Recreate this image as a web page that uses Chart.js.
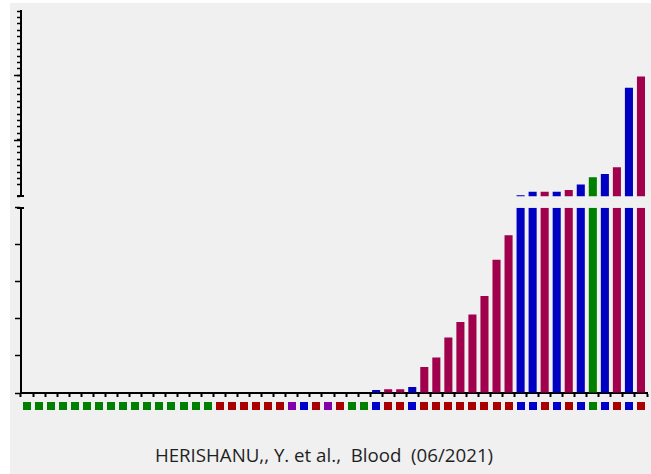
<!DOCTYPE html>
<html>
<head>
<meta charset="utf-8">
<script src="https://cdn.jsdelivr.net/npm/chart.js@4/dist/chart.umd.min.js"></script>
<style>
  html, body { margin: 0; padding: 0; background: #ffffff; }
  #frame { position: absolute; left: 10px; top: 3px; width: 641px; height: 471px; background: #f0f0f0; }
  #plot { position: absolute; left: 0; top: 0; width: 641px; height: 420px; }
  #source { position: absolute; left: -10px; top: 439px; width: 648px; text-align: center;
            font-family: "Open Sans", sans-serif; font-size: 18.7px; color: #1f1f1f; white-space: pre; }
</style>
</head>
<body>
<div id="frame">
  <div id="plot"><canvas id="chart"></canvas></div>
  <div id="source">HERISHANU,, Y. et al.,  Blood  (06/2021)</div>
</div>
<script>
// Subjects along the x axis
const subjects = [
  '1','2','3','4','5','6','7','8','9','10','11','12','13',
  '14','15','16','17','18','19','20','21','22','23','24','25','26',
  '27','28','29','30','31','32','33','34','35','36','37','38','39',
  '40','41','42','43','44','45','46','47','48','49','50','51','52'
];

// Group of each subject (G, R, B, P), shown as a coloured square under the axis
const groups = [
  'G','G','G','G','G','G','G','G','G','G','G','G','G',
  'G','G','G','R','R','R','R','R','R','P','B','R','P',
  'R','G','G','B','R','R','B','R','R','R','R','R','R',
  'R','R','B','B','R','B','R','B','G','B','R','B','R'
];

// Measured response per subject
const responses = [
  0, 0, 0, 0, 0, 0, 0, 0, 0, 0, 0, 0, 0,
  0, 0, 0, 0, 0, 0, 0, 0, 0, 0, 0, 0, 0,
  0, 0, 0, 4, 5, 5, 8, 35, 48, 75, 96, 106, 131,
  180, 213, 280, 390, 390, 390, 440, 610, 840, 940, 1150, 3620, 3970
];

// Broken value axis: lower segment 0–250, upper segment 250–6000
const lowerRange = [0, 250];
const upperRange = [250, 6000];
const lowerStep = 50;
const upperStep = 200;
const upperMajorTicks = [2000, 4000];

const squareColors = { G: '#008000', R: '#a80000', B: '#0000cc', P: '#8200aa' };
const barColors = { G: '#008000', R: '#a0004c', B: '#0000c0', P: '#8200aa' };

const breakValue = lowerRange[1];
const lowerData = responses.map(v => Math.min(v, breakValue));
const upperData = responses.map(v => (v > breakValue ? v : null));
const colorsForBars = groups.map(g => barColors[g]);

// Group squares, longer major ticks and segment caps on the broken axis
const axisDecor = {
  id: 'axisDecor',
  afterDraw(chart) {
    const ctx = chart.ctx;
    const x = chart.scales.x;
    const yU = chart.scales.yUpper;
    const yL = chart.scales.yLower;
    ctx.save();
    // squares
    const cy = x.top + 12.5;
    groups.forEach((g, i) => {
      const px = x.getPixelForValue(i);
      ctx.fillStyle = squareColors[g];
      ctx.fillRect(Math.round(px - 4), Math.round(cy - 4), 8, 8);
    });
    // major ticks on the upper segment
    ctx.strokeStyle = '#000';
    ctx.lineWidth = 1.5;
    const axisX = chart.chartArea.left;
    upperMajorTicks.forEach(v => {
      const py = Math.round(yU.getPixelForValue(v)) + 0.5;
      ctx.beginPath();
      ctx.moveTo(axisX - 7, py);
      ctx.lineTo(axisX, py);
      ctx.stroke();
    });
    // caps at the break
    ctx.lineWidth = 2;
    [yU.getPixelForValue(upperRange[0]), yL.getPixelForValue(lowerRange[1])].forEach(py => {
      ctx.beginPath();
      ctx.moveTo(axisX - 4, Math.round(py));
      ctx.lineTo(axisX + 3, Math.round(py));
      ctx.stroke();
    });
    ctx.restore();
  }
};

const barCommon = {
  type: 'bar',
  xAxisID: 'x',
  stack: 'subjects',
  backgroundColor: colorsForBars,
  borderWidth: 0,
  barPercentage: 0.67,
  categoryPercentage: 1.0
};

new Chart(document.getElementById('chart'), {
  type: 'bar',
  data: {
    labels: subjects,
    datasets: [
      Object.assign({}, barCommon, { label: 'lower', data: lowerData, yAxisID: 'yLower' }),
      Object.assign({}, barCommon, { label: 'upper', data: upperData, yAxisID: 'yUpper' })
    ]
  },
  options: {
    responsive: true,
    maintainAspectRatio: false,
    animation: false,
    layout: { padding: { left: 5, right: 4, top: 8, bottom: 26 } },
    plugins: { legend: { display: false }, tooltip: { enabled: false }, title: { display: false } },
    scales: {
      x: {
        type: 'category',
        offset: true,
        ticks: { display: false },
        grid: { display: true, drawOnChartArea: false, drawTicks: true, tickLength: 4, color: '#000', tickWidth: 2 },
        border: { display: true, color: '#000', width: 2 }
      },
      yUpper: {
        type: 'linear',
        position: 'left',
        stack: 'value',
        stackWeight: 16,
        weight: 2,
        min: upperRange[0],
        max: upperRange[1],
        ticks: { display: false, stepSize: upperStep },
        grid: { display: true, drawOnChartArea: false, tickLength: 4, color: '#000', tickWidth: 1.5 },
        border: { display: true, color: '#000', width: 2 }
      },
      yGap: {
        type: 'linear',
        position: 'left',
        stack: 'value',
        stackWeight: 1,
        weight: 1,
        min: 0,
        max: 1,
        ticks: { display: false },
        grid: { display: false, drawOnChartArea: false, tickLength: 6 },
        border: { display: false }
      },
      yLower: {
        type: 'linear',
        position: 'left',
        stack: 'value',
        stackWeight: 16,
        weight: 0,
        min: lowerRange[0],
        max: lowerRange[1],
        ticks: { display: false, stepSize: lowerStep },
        grid: { display: true, drawOnChartArea: false, tickLength: 6, color: '#000', tickWidth: 1.5 },
        border: { display: true, color: '#000', width: 2 }
      }
    }
  },
  plugins: [axisDecor]
});
</script>
</body>
</html>
